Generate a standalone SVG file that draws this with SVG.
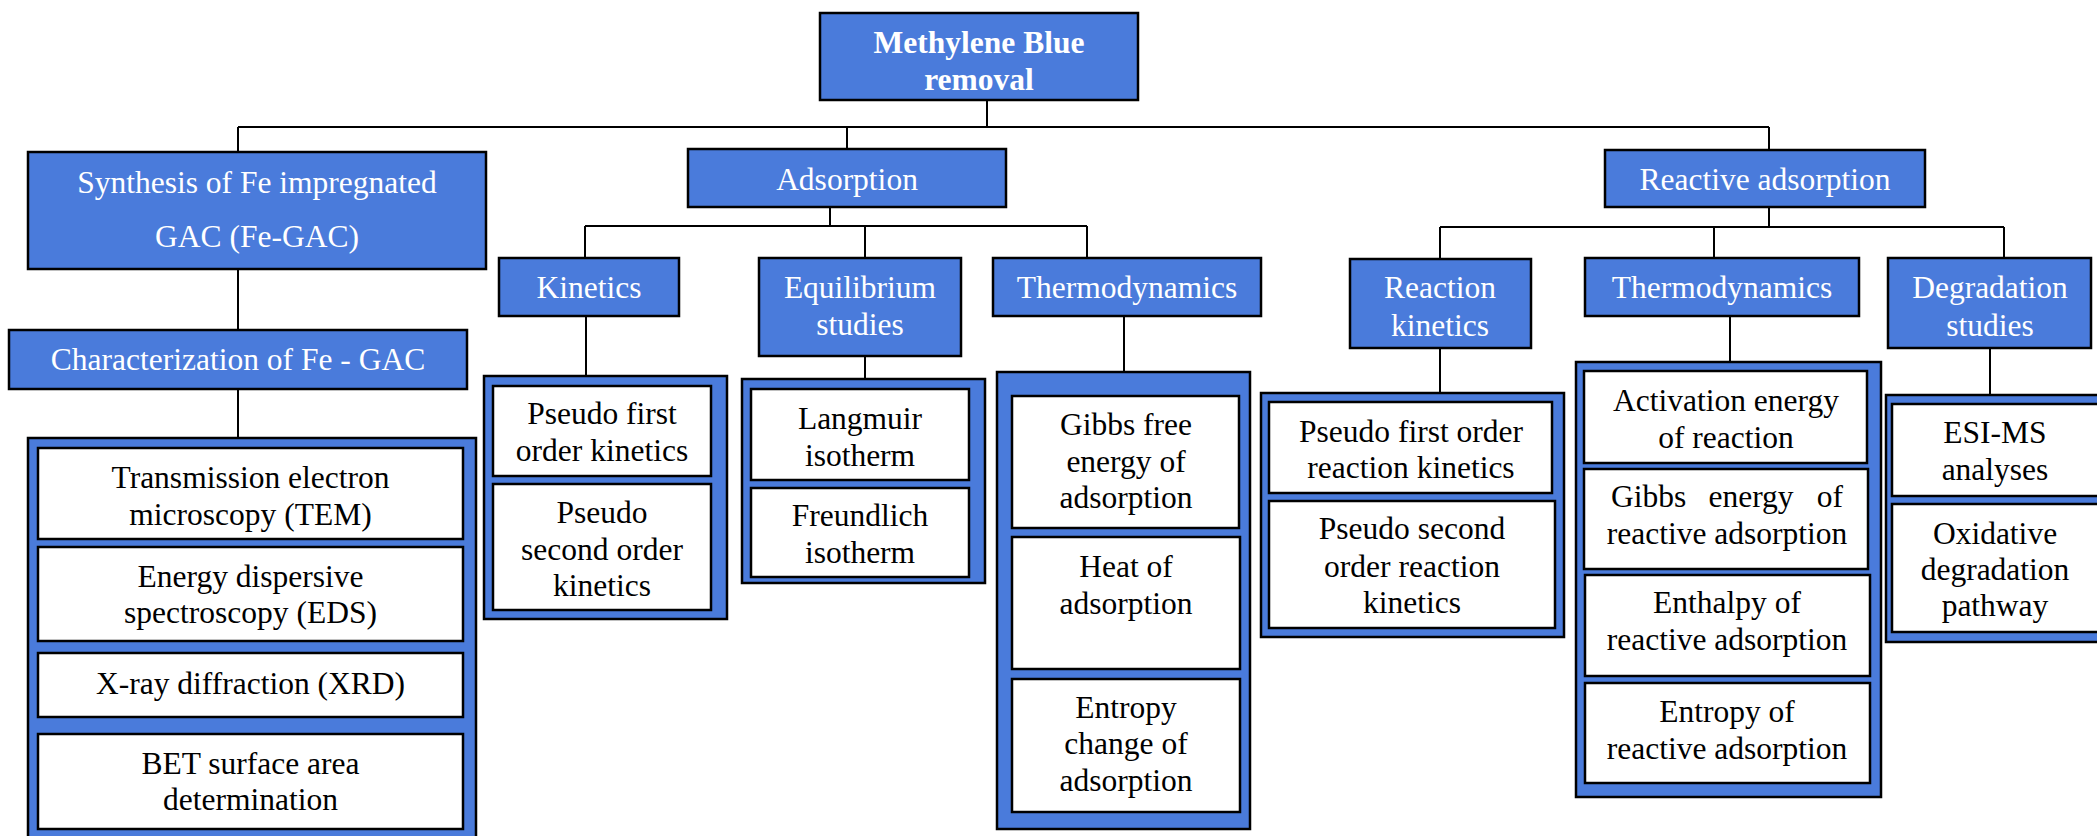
<svg xmlns="http://www.w3.org/2000/svg" width="2097" height="836" viewBox="0 0 2097 836" font-family="'Liberation Serif', 'Times New Roman', Times, serif">
<style>
text{font-family:Liberation Serif, Times New Roman, Times, serif;font-size:31.5px;text-anchor:middle}
.hd{fill:#4A7BDB;stroke:#000;stroke-width:2.5}
.ct{fill:#4A7BDB;stroke:#000;stroke-width:2.5}
.in{fill:#fff;stroke:#000;stroke-width:2.5}
.w{fill:#fff}
.k{fill:#000}
.b{font-weight:bold}
.st{text-anchor:start}
.en{text-anchor:end}
#connectors path{fill:none;stroke:#000;stroke-width:2}
</style>
<rect width="2097" height="836" fill="#fff"/>
<g id="connectors">
<path d="M987,100 V127"/>
<path d="M238,127 H1769"/>
<path d="M238,127 V152"/>
<path d="M847,127 V149"/>
<path d="M1769,127 V150"/>
<path d="M238,269 V330"/>
<path d="M238,389 V438"/>
<path d="M830,207 V226"/>
<path d="M585,226 H1087"/>
<path d="M585,226 V258"/>
<path d="M865,226 V258"/>
<path d="M1087,226 V258"/>
<path d="M586,316 V376"/>
<path d="M865,356 V379"/>
<path d="M1124,316 V372"/>
<path d="M1769,207 V227"/>
<path d="M1440,227 H2004"/>
<path d="M1440,227 V259"/>
<path d="M1714,227 V258"/>
<path d="M2004,227 V258"/>
<path d="M1440,348 V393"/>
<path d="M1730,316 V362"/>
<path d="M1990,348 V395"/>
</g>
<g id="root">
<rect class="hd" x="820" y="13" width="318" height="87"/>
<text class="w b" x="979" y="53">Methylene Blue</text>
<text class="w b" x="979" y="90">removal</text>
</g>
<g id="synthesis">
<rect class="hd" x="28" y="152" width="458" height="117"/>
<text class="w" x="257" y="193">Synthesis of Fe impregnated</text>
<text class="w" x="257" y="247">GAC (Fe-GAC)</text>
</g>
<g id="characterization">
<rect class="hd" x="9" y="330" width="458" height="59"/>
<text class="w" x="238" y="370">Characterization of Fe - GAC</text>
</g>
<g id="char-methods">
<rect class="ct" x="28" y="438" width="448" height="420"/>
<rect class="in" x="38" y="448" width="425" height="91"/>
<text class="k" x="250.5" y="488">Transmission electron</text>
<text class="k" x="250.5" y="525">microscopy (TEM)</text>
<rect class="in" x="38" y="547" width="425" height="94"/>
<text class="k" x="250.5" y="587">Energy dispersive</text>
<text class="k" x="250.5" y="623">spectroscopy (EDS)</text>
<rect class="in" x="38" y="653" width="425" height="64"/>
<text class="k" x="250.5" y="694">X-ray diffraction (XRD)</text>
<rect class="in" x="38" y="734" width="425" height="95"/>
<text class="k" x="250.5" y="774">BET surface area</text>
<text class="k" x="250.5" y="810">determination</text>
</g>
<g id="adsorption">
<rect class="hd" x="688" y="149" width="318" height="58"/>
<text class="w" x="847" y="190">Adsorption</text>
</g>
<g id="kinetics">
<rect class="hd" x="499" y="258" width="180" height="58"/>
<text class="w" x="589" y="298">Kinetics</text>
</g>
<g id="kinetics-models">
<rect class="ct" x="484" y="376" width="243" height="243"/>
<rect class="in" x="493" y="386" width="218" height="90"/>
<text class="k" x="602" y="424">Pseudo first</text>
<text class="k" x="602" y="461">order kinetics</text>
<rect class="in" x="493" y="484" width="218" height="126"/>
<text class="k" x="602" y="523">Pseudo</text>
<text class="k" x="602" y="560">second order</text>
<text class="k" x="602" y="596">kinetics</text>
</g>
<g id="equilibrium">
<rect class="hd" x="759" y="258" width="202" height="98"/>
<text class="w" x="860" y="298">Equilibrium</text>
<text class="w" x="860" y="335">studies</text>
</g>
<g id="isotherms">
<rect class="ct" x="742" y="379" width="243" height="204"/>
<rect class="in" x="751" y="389" width="218" height="91"/>
<text class="k" x="860" y="429">Langmuir</text>
<text class="k" x="860" y="466">isotherm</text>
<rect class="in" x="751" y="488" width="218" height="89"/>
<text class="k" x="860" y="526">Freundlich</text>
<text class="k" x="860" y="563">isotherm</text>
</g>
<g id="thermo-ads">
<rect class="hd" x="993" y="258" width="268" height="58"/>
<text class="w" x="1127" y="298">Thermodynamics</text>
</g>
<g id="thermo-ads-params">
<rect class="ct" x="997" y="372" width="253" height="457"/>
<rect class="in" x="1012" y="396" width="227" height="132"/>
<text class="k" x="1126" y="435">Gibbs free</text>
<text class="k" x="1126" y="472">energy of</text>
<text class="k" x="1126" y="508">adsorption</text>
<rect class="in" x="1012" y="537" width="228" height="132"/>
<text class="k" x="1126" y="577">Heat of</text>
<text class="k" x="1126" y="614">adsorption</text>
<rect class="in" x="1012" y="679" width="228" height="133"/>
<text class="k" x="1126" y="718">Entropy</text>
<text class="k" x="1126" y="754">change of</text>
<text class="k" x="1126" y="791">adsorption</text>
</g>
<g id="reactive">
<rect class="hd" x="1605" y="150" width="320" height="57"/>
<text class="w" x="1765" y="190">Reactive adsorption</text>
</g>
<g id="reaction-kinetics">
<rect class="hd" x="1350" y="259" width="181" height="89"/>
<text class="w" x="1440" y="298">Reaction</text>
<text class="w" x="1440" y="336">kinetics</text>
</g>
<g id="reaction-models">
<rect class="ct" x="1261" y="393" width="303" height="244"/>
<rect class="in" x="1269" y="402" width="283" height="91"/>
<text class="k" x="1411" y="442">Pseudo first order</text>
<text class="k" x="1411" y="478">reaction kinetics</text>
<rect class="in" x="1269" y="501" width="286" height="127"/>
<text class="k" x="1412" y="539">Pseudo second</text>
<text class="k" x="1412" y="577">order reaction</text>
<text class="k" x="1412" y="613">kinetics</text>
</g>
<g id="thermo-react">
<rect class="hd" x="1585" y="258" width="274" height="58"/>
<text class="w" x="1722" y="298">Thermodynamics</text>
</g>
<g id="thermo-react-params">
<rect class="ct" x="1576" y="362" width="305" height="435"/>
<rect class="in" x="1584" y="371" width="283" height="92"/>
<text class="k" x="1726" y="411">Activation energy</text>
<text class="k" x="1726" y="448">of reaction</text>
<rect class="in" x="1584" y="469" width="284" height="100"/>
<text class="k st" x="1611" y="507">Gibbs</text>
<text class="k" x="1751" y="507">energy</text>
<text class="k en" x="1843" y="507">of</text>
<text class="k" x="1727" y="544">reactive adsorption</text>
<rect class="in" x="1585" y="575" width="285" height="101"/>
<text class="k" x="1727" y="613">Enthalpy of</text>
<text class="k" x="1727" y="650">reactive adsorption</text>
<rect class="in" x="1585" y="683" width="285" height="100"/>
<text class="k" x="1727" y="722">Entropy of</text>
<text class="k" x="1727" y="759">reactive adsorption</text>
</g>
<g id="degradation">
<rect class="hd" x="1888" y="258" width="203" height="90"/>
<text class="w" x="1990" y="298">Degradation</text>
<text class="w" x="1990" y="336">studies</text>
</g>
<g id="degradation-methods">
<rect class="ct" x="1886" y="395" width="220" height="247"/>
<rect class="in" x="1892" y="404" width="208" height="92"/>
<text class="k" x="1995" y="443">ESI-MS</text>
<text class="k" x="1995" y="480">analyses</text>
<rect class="in" x="1892" y="504" width="208" height="128"/>
<text class="k" x="1995" y="544">Oxidative</text>
<text class="k" x="1995" y="580">degradation</text>
<text class="k" x="1995" y="616">pathway</text>
</g>
</svg>
